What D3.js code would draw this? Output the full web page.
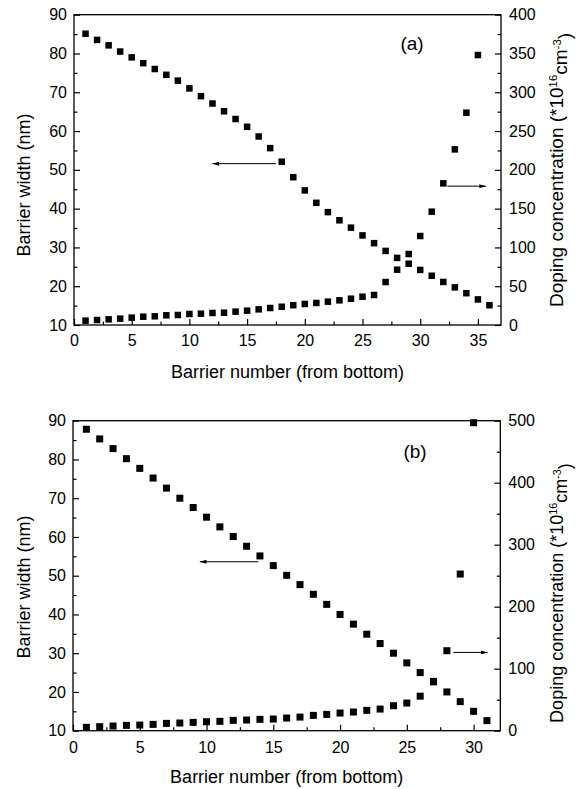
<!DOCTYPE html>
<html>
<head>
<meta charset="utf-8">
<script src="https://cdn.jsdelivr.net/npm/d3@7"></script>
<style>
  html, body { margin: 0; padding: 0; background: #fff; }
  svg { display: block; font-family: "Liberation Sans", Arial, sans-serif; }
</style>
</head>
<body>
<svg id="chart" width="586" height="789"></svg>
<script>
// ---- Data ----
// Panel (a)
const widthA = [85.1, 83.5, 82.1, 80.5, 79.0, 77.5, 76.0, 74.5, 73.0, 71.0, 69.0, 67.1, 65.1, 63.1, 61.1, 58.6, 55.6, 52.1, 48.1, 44.7, 41.5, 39.1, 37.0, 35.1, 33.1, 31.1, 29.1, 27.3, 25.8, 24.2, 22.7, 21.1, 19.7, 18.2, 16.6, 15.1];
const dopingA = [5.6, 6.4, 7.3, 8.2, 9.5, 10.7, 11.2, 12.5, 12.9, 14.2, 14.6, 15.5, 15.9, 17.2, 18.5, 20.2, 21.9, 23.5, 25.5, 27.1, 28.4, 30.1, 31.8, 33.9, 36.5, 38.7, 55.4, 71.3, 91.5, 114.7, 146.1, 182.6, 226.4, 273.7, 348.0];
// Panel (b)
const widthB = [87.8, 85.3, 82.8, 80.2, 77.7, 75.2, 72.6, 70.0, 67.6, 65.1, 62.6, 60.1, 57.6, 55.1, 52.6, 50.1, 47.7, 45.2, 42.6, 40.0, 37.5, 34.9, 32.5, 30.0, 27.5, 25.0, 22.6, 20.0, 17.5, 15.0, 12.6];
const dopingB = [5.4, 6.5, 7.5, 8.6, 9.1, 10.2, 11.8, 12.4, 13.4, 14.5, 15.1, 16.7, 17.2, 18.3, 18.8, 20.4, 22.0, 24.7, 26.3, 28.5, 30.1, 32.8, 34.9, 40.3, 44.6, 55.7, 79.5, 129.0, 252.7, 496.8];

// Tick values
const xTicksA = [0, 5, 10, 15, 20, 25, 30, 35];
const xTicksB = [0, 5, 10, 15, 20, 25, 30];
const leftTicks = [10, 20, 30, 40, 50, 60, 70, 80, 90];
const rightTicksA = [0, 50, 100, 150, 200, 250, 300, 350, 400];
const rightTicksB = [0, 100, 200, 300, 400, 500];

// Annotation arrows (data coordinates: x barrier number, y barrier width axis)
const arrowsA = [{x1: 17.5, x2: 12.0, y: 51.6}, {x1: 32.35, x2: 35.7, y: 45.8}];
const arrowsB = [{x1: 13.88, x2: 9.5, y: 53.6}, {x1: 28.48, x2: 31.05, y: 30.2}];

const svg = d3.select("#chart");
const defs = svg.append("defs");
defs.append("marker")
  .attr("id", "ah").attr("viewBox", "0 0 10 6")
  .attr("refX", 10).attr("refY", 3)
  .attr("markerWidth", 10).attr("markerHeight", 4)
  .attr("markerUnits", "userSpaceOnUse")
  .attr("orient", "auto")
  .append("path").attr("d", "M0,0 L10,3 L0,6 Z").attr("fill", "#000");

function panel(cfg) {
  const g = svg.append("g");
  const x = d3.scaleLinear().domain(cfg.xDomain).range([cfg.left, cfg.right]);
  const yL = d3.scaleLinear().domain([10, 90]).range([cfg.bottom, cfg.top]);
  const yR = d3.scaleLinear().domain(cfg.rDomain).range([cfg.bottom, cfg.top]);

  const minorX = d3.range(2.5, cfg.xDomain[1], 5);
  const minorL = d3.range(15, 90, 10);
  const minorR = d3.range(cfg.rStep / 2, cfg.rDomain[1], cfg.rStep);

  const style = sel => {
    sel.select(".domain").remove();
    sel.selectAll("line").attr("stroke", "#000").attr("stroke-width", 1.2);
    sel.selectAll("text").attr("fill", "#000").style("font-size", "16px")
      .style("font-family", '"Liberation Sans", Arial, sans-serif');
  };

  // bottom axis
  g.append("g").attr("transform", `translate(0,${cfg.bottom})`)
    .call(d3.axisBottom(x).tickValues(cfg.xTicks).tickSize(-6).tickPadding(cfg.xPad).tickFormat(d3.format("d")))
    .call(style);
  g.append("g").attr("transform", `translate(0,${cfg.bottom})`)
    .call(d3.axisBottom(x).tickValues(minorX).tickSize(-3.5).tickFormat(""))
    .call(style);
  // left axis
  g.append("g").attr("transform", `translate(${cfg.left},0)`)
    .call(d3.axisLeft(yL).tickValues(leftTicks).tickSize(-6).tickPadding(7).tickFormat(d3.format("d")))
    .call(style);
  g.append("g").attr("transform", `translate(${cfg.left},0)`)
    .call(d3.axisLeft(yL).tickValues(minorL).tickSize(-3.5).tickFormat(""))
    .call(style);
  // right axis
  g.append("g").attr("transform", `translate(${cfg.right},0)`)
    .call(d3.axisRight(yR).tickValues(cfg.rTicks).tickSize(-6).tickPadding(8).tickFormat(d3.format("d")))
    .call(style);
  g.append("g").attr("transform", `translate(${cfg.right},0)`)
    .call(d3.axisRight(yR).tickValues(minorR).tickSize(-3.5).tickFormat(""))
    .call(style);

  // frame
  g.append("rect")
    .attr("x", cfg.left).attr("y", cfg.top)
    .attr("width", cfg.right - cfg.left).attr("height", cfg.bottom - cfg.top)
    .attr("fill", "none").attr("stroke", "#000").attr("stroke-width", 1.3);

  const s = cfg.marker;
  // width series
  g.append("g").selectAll("rect").data(cfg.width).join("rect")
    .attr("x", (d, i) => x(i + 1) - s / 2)
    .attr("y", d => yL(d) - s / 2)
    .attr("width", s).attr("height", s).attr("fill", "#000");
  // doping series
  g.append("g").selectAll("rect").data(cfg.doping).join("rect")
    .attr("x", (d, i) => x(i + 1) - s / 2)
    .attr("y", d => yR(d) - s / 2)
    .attr("width", s).attr("height", s).attr("fill", "#000");

  // arrows
  g.append("g").selectAll("line").data(cfg.arrows).join("line")
    .attr("x1", d => x(d.x1)).attr("x2", d => x(d.x2))
    .attr("y1", d => yL(d.y)).attr("y2", d => yL(d.y))
    .attr("stroke", "#000").attr("stroke-width", 1)
    .attr("marker-end", "url(#ah)");

  // panel label
  g.append("text").attr("x", cfg.labelX).attr("y", cfg.labelY)
    .attr("text-anchor", "middle").style("font-size", "19px").text(cfg.label);

  // axis titles
  g.append("text").attr("x", (cfg.left + cfg.right) / 2).attr("y", cfg.xTitleY)
    .attr("text-anchor", "middle").style("font-size", "18px")
    .text("Barrier number (from bottom)");
  g.append("text")
    .attr("transform", `translate(30,${cfg.lTitleY}) rotate(-90)`)
    .attr("text-anchor", "middle").style("font-size", "18px")
    .text("Barrier width (nm)");
  const rt = g.append("text")
    .attr("transform", `translate(${cfg.rTitleX},${cfg.rTitleY}) rotate(-90)`)
    .attr("text-anchor", "middle").style("font-size", cfg.rTitleSize + "px");
  rt.append("tspan").text("Doping concentration (*10");
  rt.append("tspan").attr("dy", "-0.55em").style("font-size", "0.6em").text("16");
  rt.append("tspan").attr("dy", "0.55em").text("cm");
  rt.append("tspan").attr("dy", "-0.55em").style("font-size", "0.6em").text("-3");
  rt.append("tspan").attr("dy", "0.55em").text(")");
}

panel({
  left: 74, right: 501, top: 14.7, bottom: 325,
  xDomain: [0, 37], xTicks: xTicksA, xPad: 10,
  rDomain: [0, 400], rTicks: rightTicksA, rStep: 50,
  width: widthA, doping: dopingA, arrows: arrowsA, marker: 6.5,
  label: "(a)", labelX: 412, labelY: 50,
  xTitleY: 378, lTitleY: 185, rTitleX: 563, rTitleY: 170, rTitleSize: 19
});

panel({
  left: 73, right: 500.3, top: 420.7, bottom: 730.7,
  xDomain: [0, 32], xTicks: xTicksB, xPad: 11,
  rDomain: [0, 500], rTicks: rightTicksB, rStep: 100,
  width: widthB, doping: dopingB, arrows: arrowsB, marker: 7,
  label: "(b)", labelX: 415, labelY: 458,
  xTitleY: 783, lTitleY: 587, rTitleX: 563, rTitleY: 593, rTitleSize: 18
});
</script>
</body>
</html>
